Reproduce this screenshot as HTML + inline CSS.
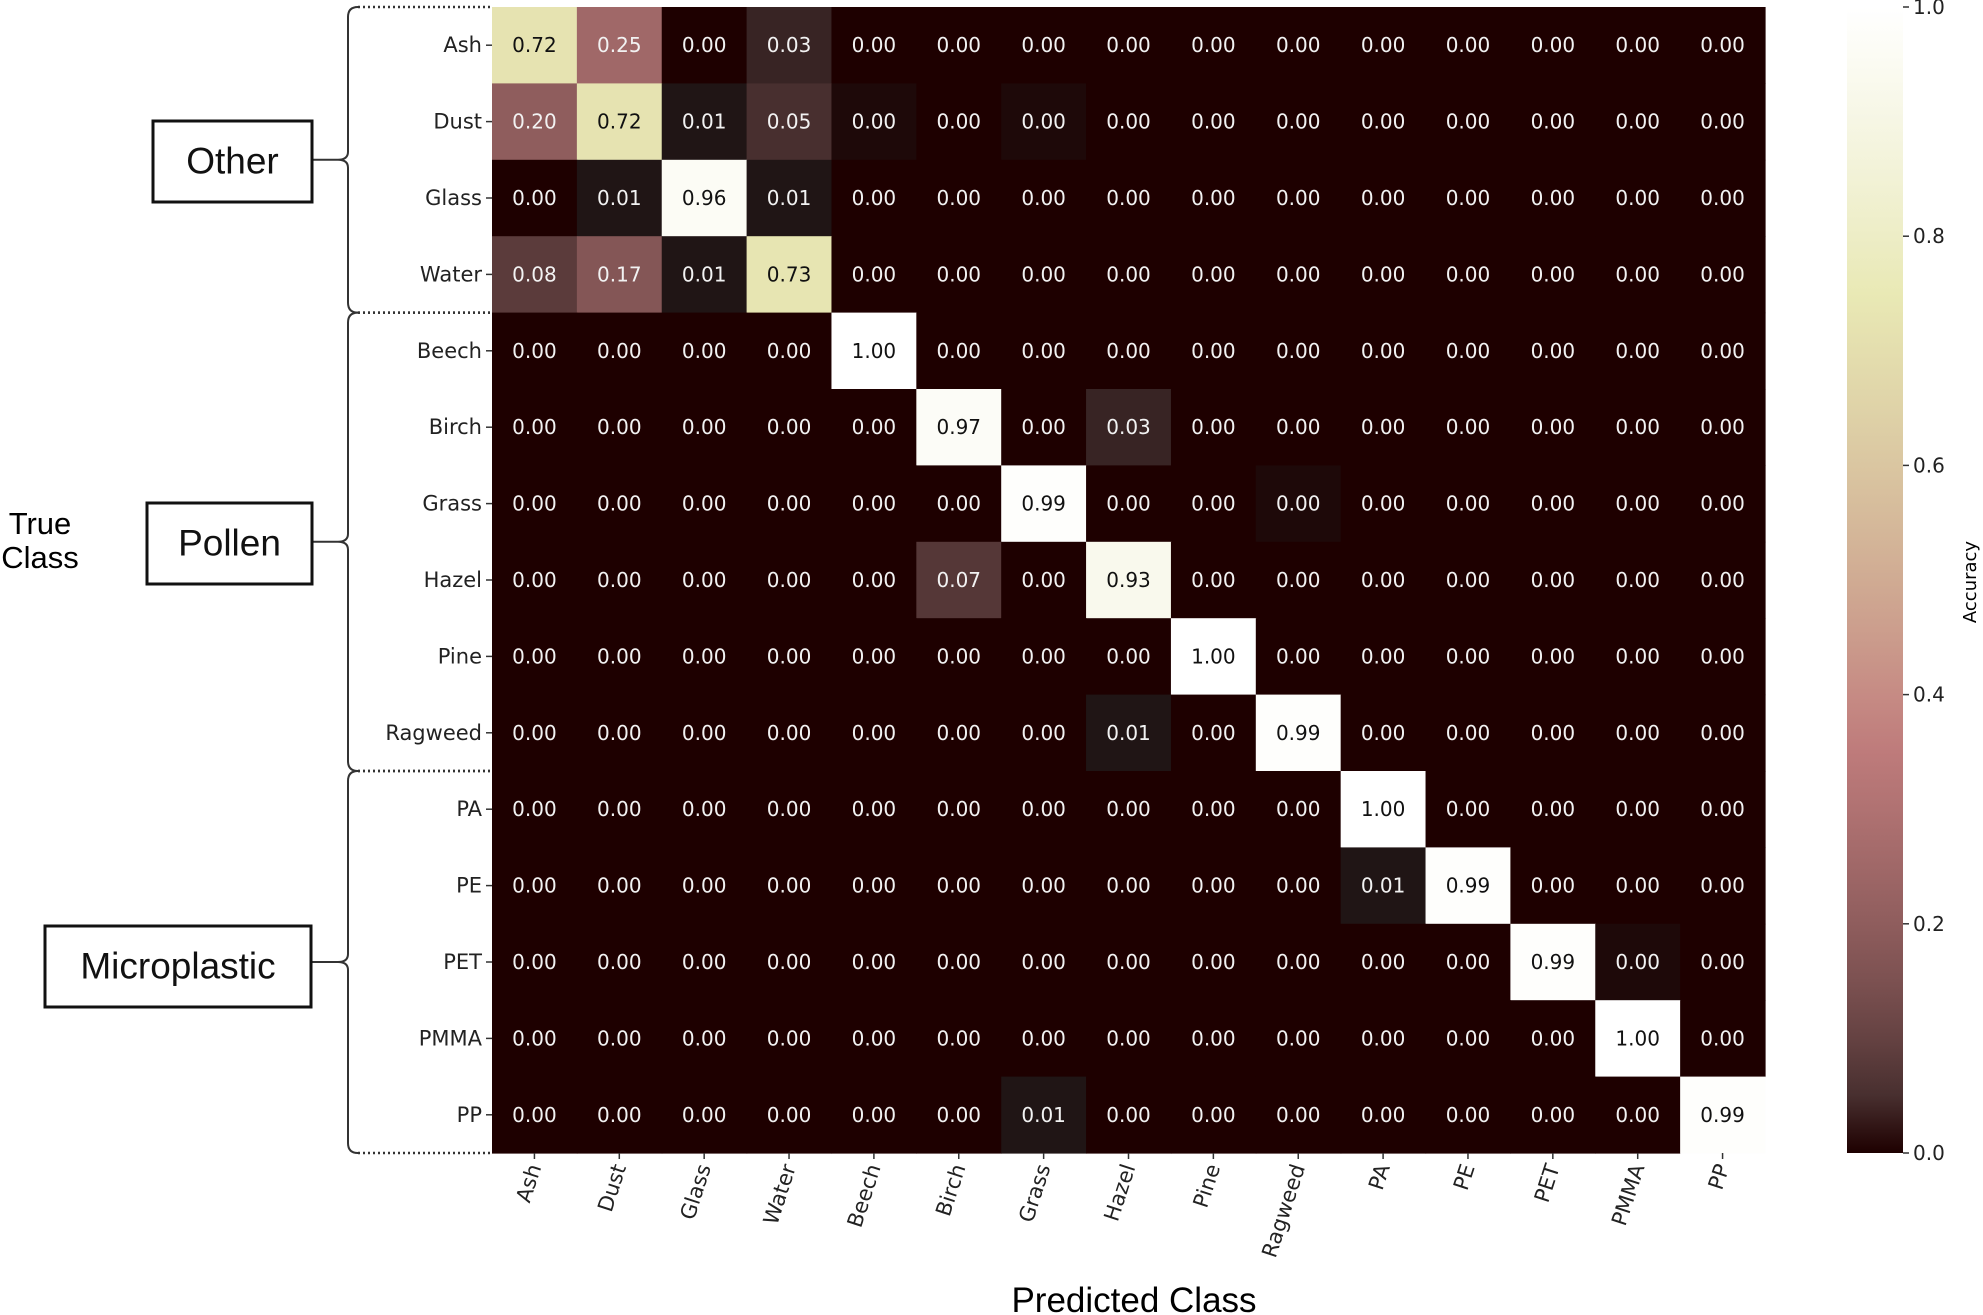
<!DOCTYPE html>
<html><head><meta charset="utf-8"><style>
html,body{margin:0;padding:0;background:#fff;}
svg{display:block;font-family:"DejaVu Sans","Liberation Sans",sans-serif;}
</style></head><body>
<svg id="chart" width="1983" height="1315" viewBox="0 0 1983 1315" xmlns="http://www.w3.org/2000/svg">
<defs><linearGradient id="cbgrad" x1="0" y1="1" x2="0" y2="0"></linearGradient></defs>
<g id="cells"></g><g id="ylab"></g><g id="xlab"></g><g id="groups"></g><g id="cbar"></g>
<text x="40" y="534" font-size="31" text-anchor="middle" font-family="Liberation Sans, sans-serif">True</text>
<text x="40" y="568" font-size="31" text-anchor="middle" font-family="Liberation Sans, sans-serif">Class</text>
<text x="1134" y="1312" font-size="35" text-anchor="middle" font-family="Liberation Sans, sans-serif">Predicted Class</text>
<text transform="translate(1976,582) rotate(-90)" font-size="18" text-anchor="middle">Accuracy</text>
</svg>
<script>
const categories = ["Ash","Dust","Glass","Water","Beech","Birch","Grass","Hazel","Pine","Ragweed","PA","PE","PET","PMMA","PP"];
const values = [
[0.72,0.25,0.00,0.03,0,0,0,0,0,0,0,0,0,0,0],
[0.20,0.72,0.01,0.05,0.002,0,0.002,0,0,0,0,0,0,0,0],
[0.00,0.01,0.96,0.01,0,0,0,0,0,0,0,0,0,0,0],
[0.08,0.17,0.01,0.73,0,0,0,0,0,0,0,0,0,0,0],
[0,0,0,0,1.00,0,0,0,0,0,0,0,0,0,0],
[0,0,0,0,0,0.97,0,0.03,0,0,0,0,0,0,0],
[0,0,0,0,0,0,0.99,0,0,0.002,0,0,0,0,0],
[0,0,0,0,0,0.07,0,0.93,0,0,0,0,0,0,0],
[0,0,0,0,0,0,0,0,1.00,0,0,0,0,0,0],
[0,0,0,0,0,0,0,0.01,0,0.99,0,0,0,0,0],
[0,0,0,0,0,0,0,0,0,0,1.00,0,0,0,0],
[0,0,0,0,0,0,0,0,0,0,0.01,0.99,0,0,0],
[0,0,0,0,0,0,0,0,0,0,0,0,0.99,0.002,0],
[0,0,0,0,0,0,0,0,0,0,0,0,0,1.00,0],
[0,0,0,0,0,0,0.01,0,0,0,0,0,0,0,0.99]];
const groups = ["Other","Pollen","Microplastic"];
const groupRows = [[0,3],[4,9],[10,14]];
const cbTicks = [0.0,0.2,0.4,0.6,0.8,1.0];

const NS="http://www.w3.org/2000/svg";
const X0=492,X1=1765,Y0=7,Y1=1153;
const n=categories.length, cw=(X1-X0)/n, ch=(Y1-Y0)/n;
const xPos=i=>X0+i*cw, yPos=i=>Y0+i*ch;
const cbX=1847,cbW=56;
const cbY=v=>Y1-v*(Y1-Y0);
function el(t,a,p){const e=document.createElementNS(NS,t);for(const k in a)e.setAttribute(k,a[k]);p.appendChild(e);return e;}
function pink(x){
  const gray=x;
  const hr=Math.min(1,x/0.365), hg=Math.max(0,Math.min(1,(x-0.365)/0.381)), hb=Math.max(0,Math.min(1,(x-0.746)/0.254));
  const f=h=>Math.round(255*Math.sqrt((2*gray+h)/3));
  let r=Math.sqrt((2*gray+hr)/3); r=Math.max(r,0.1178);
  return `rgb(${Math.round(255*r)},${f(hg)},${f(hb)})`;
}
const cells=document.getElementById('cells');
for(let r=0;r<n;r++)for(let c=0;c<n;c++){
  const v=values[r][c];
  const rc=el('rect',{x:xPos(c),y:yPos(r),width:cw+0.6,height:ch+0.6,fill:pink(v)},cells);
  
  
  const t=el('text',{x:xPos(c)+cw/2,y:yPos(r)+ch/2+7,'font-size':20,'text-anchor':'middle',fill:v>0.5?'#111':'#f2f2f2'},cells);
  t.textContent=(Math.round(v*100)/100).toFixed(2);
  
  
}
const yl=document.getElementById('ylab');
categories.forEach((c,i)=>{
  const y=yPos(i)+ch/2;
  el('line',{x1:X0-6,x2:X0,y1:y,y2:y,stroke:'#333','stroke-width':1.5},yl);
  const t=el('text',{x:X0-10,y:y+7,'font-size':21,'text-anchor':'end',fill:'#222'},yl);
  t.textContent=c;
  
  
});
const xl=document.getElementById('xlab');
categories.forEach((c,i)=>{
  const x=xPos(i)+cw/2;
  el('line',{x1:x,x2:x,y1:Y1,y2:Y1+6,stroke:'#333','stroke-width':1.5},xl);
  const t=el('text',{transform:`translate(${x+7},${Y1+14}) rotate(-72)`,'font-size':21,'text-anchor':'end',fill:'#222'},xl);
  t.textContent=c;
  
  
});
const g=document.getElementById('groups');
const boxes=[[153,121,312,202],[147,503,312,584],[45,926,311,1007]];
const bx=348;
groups.forEach((name,i)=>{
  const ya=yPos(groupRows[i][0]), yb=yPos(groupRows[i][1]+1), ym=(ya+yb)/2;
  const p=el('path',{d:`M${bx+10},${ya} Q${bx},${ya} ${bx},${ya+10} L${bx},${ym-8} Q${bx},${ym} ${bx-10},${ym} Q${bx},${ym} ${bx},${ym+8} L${bx},${yb-10} Q${bx},${yb} ${bx+10},${yb}`,fill:'none',stroke:'#333','stroke-width':2},g);
  
  
  el('line',{x1:bx+10,x2:X0,y1:ya,y2:ya,stroke:'#333','stroke-width':2.5,'stroke-dasharray':'2,3'},g);
  el('line',{x1:bx+10,x2:X0,y1:yb,y2:yb,stroke:'#333','stroke-width':2.5,'stroke-dasharray':'2,3'},g);
  const b=boxes[i];
  el('line',{x1:b[2],x2:bx-10,y1:ym,y2:ym,stroke:'#333','stroke-width':2},g);
  const r=el('rect',{x:b[0],y:b[1],width:b[2]-b[0],height:b[3]-b[1],fill:'#fff',stroke:'#111','stroke-width':3},g);
  
  
  const t=el('text',{x:(b[0]+b[2])/2,y:(b[1]+b[3])/2+12,'font-size':37,'text-anchor':'middle','font-family':'Liberation Sans, sans-serif',fill:'#111'},g);
  t.textContent=name;
  
  
});
const grad=document.getElementById('cbgrad');
for(let k=0;k<=20;k++){el('stop',{offset:k/20,'stop-color':pink(k/20)},grad);}
const cb=document.getElementById('cbar');
const cr=el('rect',{x:cbX,y:Y0,width:cbW,height:Y1-Y0,fill:'url(#cbgrad)'},cb);


cbTicks.forEach(v=>{
  const y=cbY(v);
  el('line',{x1:cbX+cbW,x2:cbX+cbW+6,y1:y,y2:y,stroke:'#333','stroke-width':1.5},cb);
  const t=el('text',{x:cbX+cbW+10,y:y+7,'font-size':20,fill:'#222'},cb);
  t.textContent=v.toFixed(1);
  
  
});
</script>
</body></html>
